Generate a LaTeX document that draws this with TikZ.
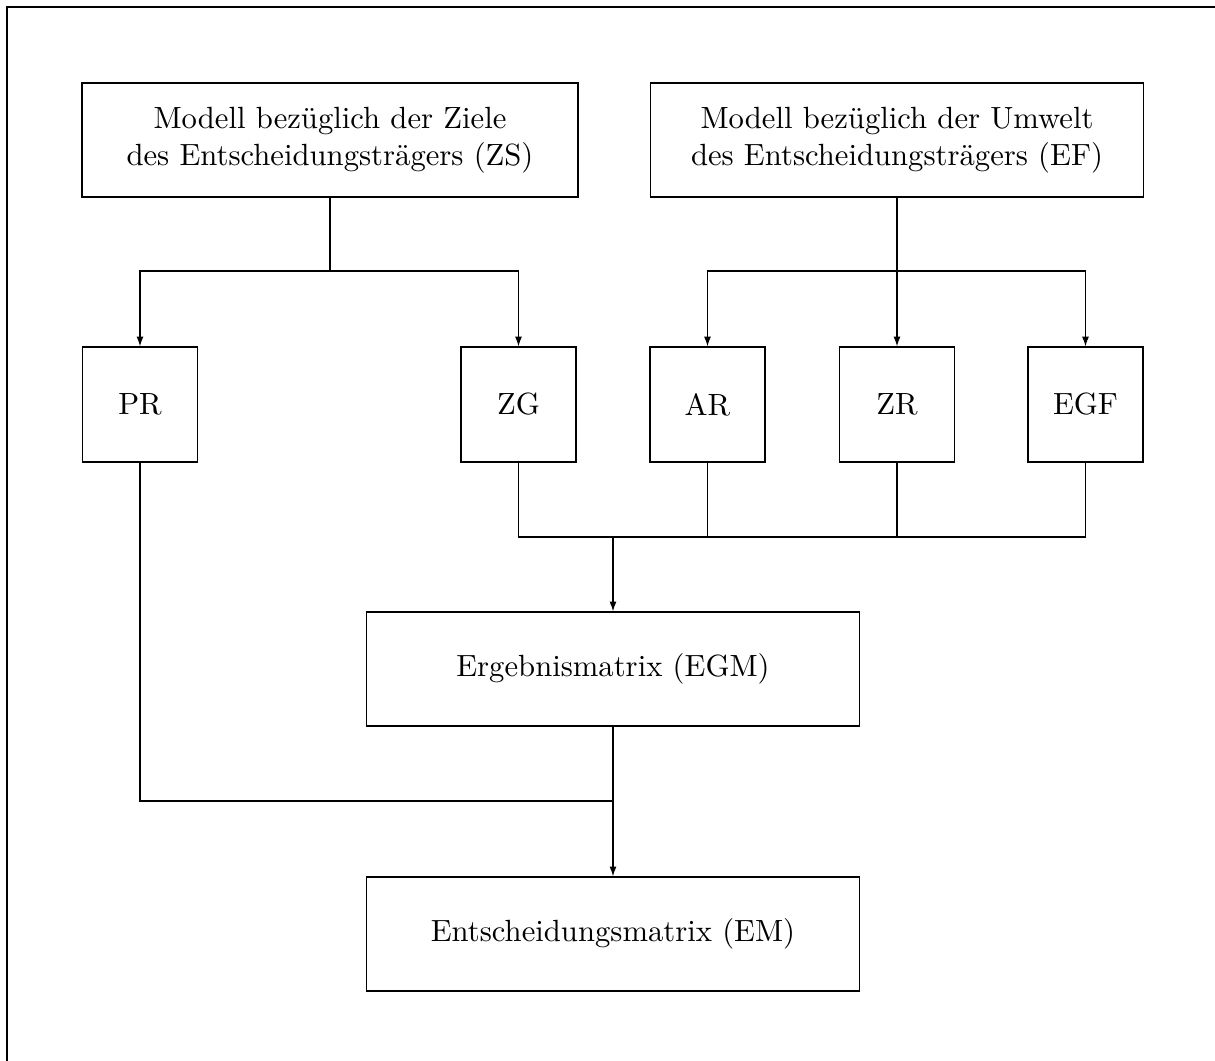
\documentclass[tikz,border=0pt]{standalone}
\usetikzlibrary{arrows.meta}
\begin{document}
\begin{tikzpicture}[x=0.326pt,y=-0.326pt,
  box/.style={draw,line width=0.4pt,inner sep=0pt,align=center,minimum height=37.2pt},
  sq/.style={box,minimum width=37.5pt,minimum height=37.5pt},
  conn/.style={line width=0.4pt},
  arr/.style={conn,-{Latex[length=3.2pt,width=2.3pt]}}]
\useasboundingbox (0,0) rectangle (1215,1061);
\draw[line width=0.45pt] (7,1061) -- (7,7) -- (1215,7);
\node[box,minimum width=161.7pt] (ZS) at (330,140) {Modell bezüglich der Ziele\\des Entscheidungsträgers (ZS)};
\node[box,minimum width=160.7pt] (EF) at (897,140) {Modell bezüglich der Umwelt\\des Entscheidungsträgers (EF)};
\node[sq] (PR) at (140,404.5) {PR};
\node[sq] (ZG) at (518.5,404.5) {ZG};
\node[sq] (AR) at (707.5,404.5) {AR};
\node[sq] (ZR) at (897,404.5) {ZR};
\node[sq] (EGF) at (1085.5,404.5) {EGF};
\node[box,minimum width=160.5pt] (EGM) at (613,669) {Ergebnismatrix (EGM)};
\node[box,minimum width=160.5pt] (EM) at (613,934) {Entscheidungsmatrix (EM)};
% junctions
\coordinate (j1) at (330,271);
\coordinate (j2) at (897,271);
\coordinate (j3) at (613,537);
\coordinate (j4) at (613,801);
% ZS branch
\draw[conn] (ZS.south) -- (j1);
\draw[arr] (j1) -| (PR.north);
\draw[arr] (j1) -| (ZG.north);
% EF branch
\draw[arr] (EF.south) -- (ZR.north);
\draw[arr] (j2) -| (AR.north);
\draw[arr] (j2) -| (EGF.north);
% to EGM
\draw[conn] (ZG.south) |- (j3);
\draw[conn] (AR.south) |- (j3);
\draw[conn] (ZR.south) |- (j3);
\draw[conn] (EGF.south) |- (j3);
\draw[arr] (j3) -- (EGM.north);
% to EM
\draw[conn] (PR.south) |- (j4);
\draw[conn] (EGM.south) -- (j4);
\draw[arr] (j4) -- (EM.north);
\end{tikzpicture}
\end{document}
